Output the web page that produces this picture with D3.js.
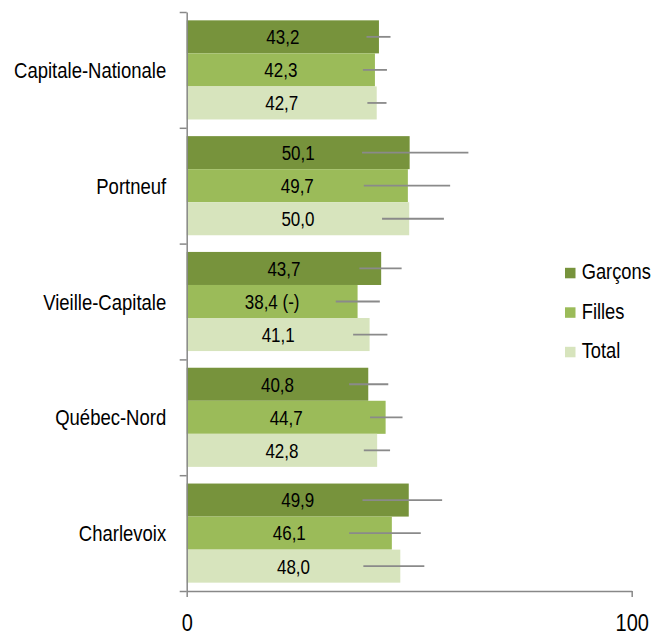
<!DOCTYPE html>
<html>
<head>
<meta charset="utf-8">
<script src="https://cdn.jsdelivr.net/npm/d3@7"></script>
<style>
  body { margin: 0; background: #fff; }
  svg { display: block; font-family: Arial, "Liberation Sans", sans-serif; }
</style>
</head>
<body>
<div id="chart"></div>
<script>
// data
const categories = ['Capitale-Nationale', 'Portneuf', 'Vieille-Capitale', 'Québec-Nord', 'Charlevoix'];
const seriesNames = ['Garçons', 'Filles', 'Total'];
const garcons = [43.2, 50.1, 43.7, 40.8, 49.9];
const filles = [42.3, 49.7, 38.4, 44.7, 46.1];
const total = [42.7, 50.0, 41.1, 42.8, 48.0];
// confidence intervals (error bars)
const garconsLow = [40.4, 39.4, 38.8, 36.5, 39.5];
const garconsHigh = [45.8, 63.3, 48.3, 45.3, 57.4];
const fillesLow = [39.6, 39.8, 33.5, 41.2, 36.5];
const fillesHigh = [45.0, 59.2, 43.4, 48.5, 52.6];
const totalLow = [40.6, 43.9, 37.4, 39.8, 39.7];
const totalHigh = [44.9, 57.8, 45.1, 45.7, 53.4];
// suffix on some labels
const fillesNotes = ['', '', ' (-)', '', ''];
const xTicks = [0, 100];

const colors = ['#77933C', '#9BBB59', '#D7E4BD'];

const width = 655, height = 631;
const margin = { top: 12, left: 186.7, right: 23.3, bottom: 40 };
// the source picture has slightly tall text
const stretch = 1.24;

const seriesValues = [garcons, filles, total];
const seriesLow = [garconsLow, fillesLow, totalLow];
const seriesHigh = [garconsHigh, fillesHigh, totalHigh];
const seriesNotes = [['', '', '', '', ''], fillesNotes, ['', '', '', '', '']];

const rows = [];
categories.forEach((c, i) => {
  seriesNames.forEach((s, j) => {
    rows.push({
      category: c, series: s, idx: j,
      value: seriesValues[j][i],
      low: seriesLow[j][i], high: seriesHigh[j][i],
      note: seriesNotes[j][i]
    });
  });
});

const svg = d3.select('#chart').append('svg')
  .attr('width', width)
  .attr('height', height);

const x = d3.scaleLinear().domain([0, 100]).range([margin.left, margin.left + 445]);
const y0 = d3.scaleBand().domain(categories).range([margin.top, 591]).padding(0);
const pad = y0.bandwidth() * 0.072;
const y1 = d3.scaleBand().domain(seriesNames).range([pad, y0.bandwidth() - pad]).padding(0);
const color = d3.scaleOrdinal().domain(seriesNames).range(colors);

const fmt = v => v.toFixed(1).replace('.', ',');

// bars
const bars = svg.append('g').selectAll('g')
  .data(rows)
  .enter().append('g')
  .attr('transform', d => `translate(0,${y0(d.category) + y1(d.series)})`);

bars.append('rect')
  .attr('x', x(0))
  .attr('width', d => x(d.value) - x(0))
  .attr('height', y1.bandwidth())
  .attr('fill', d => color(d.series));

// value labels
bars.append('text')
  .attr('transform', d => `translate(${(x(0) + x(d.value)) / 2},${y1.bandwidth() / 2}) scale(1,${stretch})`)
  .attr('dy', '0.35em')
  .attr('text-anchor', 'middle')
  .attr('font-size', 17)
  .attr('fill', '#000')
  .text(d => fmt(d.value) + d.note);

// error bars
bars.append('line')
  .attr('x1', d => x(d.low))
  .attr('x2', d => x(d.high))
  .attr('y1', y1.bandwidth() / 2)
  .attr('y2', y1.bandwidth() / 2)
  .attr('stroke', '#8a8a8a')
  .attr('stroke-width', 1.8);

// y axis: ticks at category boundaries
const yIdx = d3.scaleLinear().domain([0, categories.length]).range([margin.top, 591]);
const yAxis = svg.append('g')
  .attr('transform', `translate(${x(0)},0)`)
  .call(d3.axisLeft(yIdx).ticks(categories.length).tickFormat('').tickSize(7).tickSizeOuter(0));

// x axis
const xAxis = svg.append('g')
  .attr('transform', 'translate(0,591)')
  .call(d3.axisBottom(x).tickValues(xTicks).tickSize(6).tickSizeOuter(0));
xAxis.selectAll('text')
  .attr('y', 22 / stretch)
  .attr('transform', `scale(1,${stretch})`)
  .attr('font-size', 20)
  .attr('fill', '#000')
  .attr('font-family', 'Arial, "Liberation Sans", sans-serif');

[yAxis, xAxis].forEach(a => {
  a.selectAll('path, line').attr('stroke', '#888').attr('stroke-width', 1.5);
});

// category labels
svg.append('g').selectAll('text')
  .data(categories)
  .enter().append('text')
  .attr('transform', d => `translate(${x(0) - 20.5},${y0(d) + y0.bandwidth() / 2}) scale(1,${stretch})`)
  .attr('dy', '0.35em')
  .attr('text-anchor', 'end')
  .attr('font-size', 18.5)
  .attr('fill', '#000')
  .text(d => d);

// legend
const legend = svg.append('g').selectAll('g')
  .data(seriesNames)
  .enter().append('g')
  .attr('transform', (d, i) => `translate(565,${273 + i * 39.5})`);

legend.append('rect')
  .attr('x', 0)
  .attr('y', -5.2)
  .attr('width', 10.5)
  .attr('height', 10.5)
  .attr('fill', d => color(d));

legend.append('text')
  .attr('transform', `translate(16.7,-1.5) scale(1,${stretch})`)
  .attr('dy', '0.35em')
  .attr('font-size', 18.3)
  .attr('fill', '#000')
  .text(d => d);
</script>
</body>
</html>
